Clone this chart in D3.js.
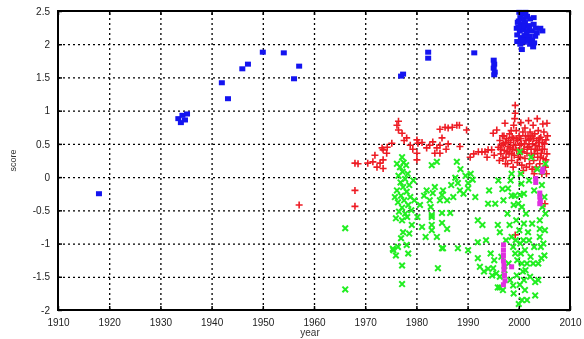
<!DOCTYPE html>
<html>
<head>
<meta charset="utf-8">
<script src="https://cdn.jsdelivr.net/npm/d3@7"></script>
<style>
  body { margin: 0; background: #fff; }
  svg { display: block; font-family: "Liberation Sans", Arial, sans-serif; filter: blur(0.35px); }
  .grid line { stroke: #000; stroke-dasharray: 2,3; stroke-width: 1.3; }
  .grid path { display: none; }
  .ax path { display: none; }
  .ax line { stroke: #000; stroke-width: 1.5; }
  .ax text { fill: #222; font-size: 10px; }
</style>
</head>
<body>
<svg id="chart" width="584" height="339"></svg>
<script>
const W = 584, H = 339;
const margin = { left: 58, right: 14, top: 11, bottom: 29 };

const xTicks = [1910, 1920, 1930, 1940, 1950, 1960, 1970, 1980, 1990, 2000, 2010];
const yTicks = [-2, -1.5, -1, -0.5, 0, 0.5, 1, 1.5, 2, 2.5];

// [year, score]
const blue = [
  [1918,-0.25],[1933.5,0.88],[1934,0.82],[1934.3,0.93],[1935.2,0.95],[1934.8,0.86],
  [1942,1.42],[1943.2,1.18],[1946,1.63],[1947.1,1.70],[1950,1.88],[1954.1,1.87],[1956.1,1.48],[1957.1,1.67],
  [1977,1.52],[1977.4,1.55],[1982.3,1.88],[1982.3,1.79],[1991.3,1.87],
  [1995.1,1.76],[1995.2,1.70],[1995.1,1.64],[1995.3,1.58],[1995.2,1.54],
  [2000.1,2.48],[2000.6,2.45],[2000.3,2.40],[2001.0,2.38],[1999.8,2.33],[2000.4,2.30],[2001.2,2.32],
  [2001.8,2.28],[1999.6,2.24],[2000.2,2.20],[2000.9,2.22],[2002.0,2.25],[2002.5,2.20],[2003.3,2.24],
  [2004.2,2.24],[2004.6,2.20],[1999.7,2.14],[2000.4,2.10],[2001.1,2.13],[2002.1,2.12],[2002.6,2.06],
  [1999.7,2.04],[2000.3,2.00],[2001.0,2.03],[2002.2,2.00],[2000.6,1.92],[2002.8,1.96],[2003.2,2.12],
  [2002.9,2.30],[2001.6,2.42],[2000.0,2.35],[2000.8,2.28],[2001.5,2.18],[2003.0,2.02],[2003.5,2.17],
  [2001.6,2.06],[2000.8,2.06],[1999.9,2.26],[2002.2,2.38],[2002.9,2.40],[2001.3,2.48]
];

const red = [
  [1957.1,-0.42],[1968,-0.2],[1968,-0.44],[1968,0.21],[1968.6,0.2],
  [1970.5,0.21],[1971.5,0.23],[1971.9,0.33],[1972.3,0.15],[1972.9,0.21],[1973.5,0.26],[1973.3,0.44],
  [1974.3,0.45],[1975.2,0.51],[1974.2,0.36],[1973.5,0.13],[1976.2,0.78],[1976.5,0.71],[1977.2,0.66],
  [1978.1,0.59],[1976.5,0.84],[1977.6,0.55],[1978.8,0.48],[1979.3,0.42],[1973.5,0.41],
  [1980.1,0.56],[1980.3,0.51],[1980.1,0.36],[1980.1,0.26],[1981.1,0.52],[1982,0.44],[1982.6,0.48],
  [1983.2,0.53],[1984,0.44],[1984.6,0.48],[1985,0.59],[1983.6,0.36],[1984.6,0.36],[1985.6,0.75],
  [1986.2,0.50],[1985.8,0.42],[1984.6,0.72],[1986.2,0.74],[1987.0,0.75],[1988.4,0.78],
  [1987.9,0.78],[1989.8,0.71],[1988.5,0.46],[1990.5,0.30],[1991.2,0.35],[1992.1,0.38],[1992.8,0.38],
  [1993.4,0.38],[1994,0.41],[1994.7,0.41],[1995,0.66],[1995.7,0.71],[1993.8,0.30],[1995.2,0.33],
  [1996.0,0.45],[1996.3,0.55],[1996.5,0.35],[1996.8,0.62],[1997.0,0.50],[1997.2,0.40],[1997.3,0.81],
  [1997.5,0.30],[1997.6,0.58],[1997.9,0.46],[1998.1,0.36],[1998.2,0.65],[1998.4,0.52],[1998.6,0.25],
  [1998.8,0.42],[1999.0,0.58],[1999.1,0.33],[1999.3,1.08],[1999.3,0.96],[1999.2,0.88],[1999.4,0.48],
  [1999.5,0.70],[1999.7,0.22],[1999.8,0.55],[2000.0,0.40],[2000.1,0.62],[2000.3,0.30],[2000.5,0.50],
  [2000.6,0.18],[2000.8,0.68],[2001.0,0.42],[2001.2,0.74],[2001.2,0.28],[2001.4,0.55],[2001.6,0.36],
  [2001.8,0.62],[2002.0,0.46],[2002.1,0.20],[2002.3,0.58],[2002.5,0.33],[2002.8,0.78],[2002.7,0.50],
  [2002.9,0.25],[2003.1,0.65],[2003.2,0.42],[2003.4,0.15],[2003.5,0.55],[2003.7,0.30],[2003.8,0.70],
  [2004.0,0.46],[2004.1,0.20],[2004.3,0.60],[2004.4,0.36],[2004.6,0.52],[2004.8,0.28],[2004.9,0.68],
  [2005.0,0.42],[2005.2,0.15],[2005.3,0.56],[2005.5,0.81],[2005.5,0.35],[2005.6,0.62],
  [1996.2,0.25],[1997.8,0.20],[1998.9,0.15],[2000.9,0.10],[2002.2,0.68],[2003.0,0.05],[2004.5,0.05],
  [2005.4,0.05],[1999.0,0.78],[2001.9,0.85],[2003.6,0.88],[2004.7,0.80],[1996.9,0.28],[1998.5,0.70],
  [2000.4,0.82],[2001.5,0.15],[2002.6,0.12],[2003.9,0.52],
  [1996.4,0.42],[1996.7,0.48],[1997.1,0.62],[1997.4,0.52],[1997.7,0.38],[1998.0,0.55],[1998.3,0.44],
  [1998.7,0.60],[1999.0,0.48],[1999.6,0.40],[1999.9,0.30],[2000.2,0.48],[2000.4,0.58],[2000.7,0.38],
  [2001.1,0.50],[2001.3,0.62],[2001.7,0.45],[2002.0,0.56],[2002.4,0.42],[2002.6,0.62],[2003.0,0.35],
  [2003.3,0.48],[2003.6,0.40],[2004.0,0.58],[2004.2,0.30],[2004.6,0.42],[2005.0,0.50],[2005.3,0.26],
  [1999.5,0.58],[1998.6,0.35],[1997.4,0.20],[2002.9,0.58],
  [2005.1,-0.40],[1999.3,-0.87]
];

const green = [
  [1977.2,0.30],[1977.5,0.22],[1976.8,0.15],[1978.0,0.18],[1977.3,0.08],[1976.5,0.02],[1978.3,0.05],
  [1977.8,-0.03],[1976.9,-0.08],[1978.6,-0.12],[1977.4,-0.15],[1976.2,-0.20],[1978.1,-0.22],[1977.0,-0.28],
  [1978.8,-0.30],[1977.6,-0.35],[1976.4,-0.38],[1978.4,-0.42],[1977.2,-0.46],[1979.0,-0.50],[1977.8,-0.55],
  [1976.6,-0.52],[1978.2,-0.60],[1977.2,-0.65],[1979.1,-0.72],[1977.4,-0.83],[1976.4,-1.05],[1975.5,-1.10],
  [1978.1,-1.02],[1978.4,-1.15],[1977.2,-1.33],[1977.2,-1.61],[1975.4,-1.08],[1976.0,-1.18],[1977.0,-0.92],
  [1978.6,-0.85],[1979.4,-0.05],[1979.6,-0.35],[1976.0,-0.62],[1975.8,-0.30],[1976.2,0.20],
  [1966.1,-0.77],[1966.1,-1.69],
  [1983,0.18],[1984,0.23],[1987.9,0.23],[1981.1,-0.75],[1983,-0.72],[1983,-0.8],[1985,-1.07],[1984.2,-1.37],
  [1983,-0.6],[1982,-0.2],[1982.6,-0.35],[1984.6,-0.35],[1980.7,-0.42],[1983.2,-0.24],[1985,-0.27],
  [1985.2,-0.2],[1986,-0.35],[1987.2,-0.3],[1988.5,-0.2],[1987.6,-0.01],[1988.1,-0.09],[1990.1,-0.17],
  [1990.1,-0.09],[1991,-0.04],[1983,-0.57],[1985,-0.69],[1985,-0.54],[1986.6,-0.54],[1985.2,-1.07],
  [1988.1,-1.07],[1990.1,-1.1],[1992,-0.65],[1992,-0.98],[1992,-1.22],[1994,-0.4],[1982.8,-0.45],
  [1981.5,-0.28],[1986.8,-0.12],[1989.2,-0.25],[1989.6,0.02],[1991.5,-0.30],[1990.6,0.05],[1988.6,0.12],
  [1986.0,-0.78],[1984.0,-0.9],[1983.6,-0.15],[1980.2,-0.6],[1981.8,-0.9],
  [1992.4,-1.35],[1993.2,-1.42],[1994.0,-1.38],[1994.8,-1.48],[1995.6,-1.45],[1996.3,-1.50],[1996.3,-1.66],
  [1995,-1.37],[1995.9,-1.66],[1996.9,-1.70],[1998.9,-1.63],[2000.6,-1.85],[2001.6,-1.85],[2003.2,-1.78],
  [2003.8,-1.30],[2003.8,-1.55],[2003.2,-1.58],[2004.1,-0.65],[2004.1,-0.78],[2004.1,-0.9],[2001.8,-0.83],
  [1995.9,-0.72],[1996.3,-0.83],[1992.9,-0.72],[1993.6,-0.95],[1994.5,-1.15],[1995.2,-1.25],[1997.8,-0.55],
  [1998.2,-0.72],[1998.6,-0.90],[1998.9,-1.05],[1999.3,-1.15],[1999.7,-1.25],[1999.5,-0.65],[1999.9,-0.40],
  [2000.1,-0.80],[2000.3,-1.00],[2000.6,-1.30],[2000.8,-1.42],[2001.0,-1.55],[2000.2,-1.62],[1999.6,-1.48],
  [2001.2,-1.10],[2001.4,-0.55],[2001.6,-1.30],[2002.0,-0.95],[2002.3,-1.20],[2002.6,-0.70],[2003.0,-1.05],
  [2001.0,-0.25],[2000.5,-0.10],[1999.2,-0.28],[1998.4,-0.05],[1997.9,-0.17],[2000.2,-0.27],[2002.0,-0.05],
  [2003.0,-0.20],[2004.5,-0.12],[2005.0,-0.30],[2005.2,-0.55],[2004.8,-1.00],[2005.0,-1.18],[2004.4,-1.22],
  [2000.2,0.38],[2002.4,0.30],[2005.2,0.20],[2004.6,0.08],[2003.6,0.12],[1998.6,0.05],[1997.0,-0.35],
  [1996.6,-1.20],[1997.2,-1.40],[1998.0,-1.30],[1998.3,-1.55],[1999.0,-1.75],[2000.0,-1.91],[2001.2,-1.70],
  [2002.2,-1.50],[2002.8,-1.30],[1996.0,-0.05],[1995.4,-0.40],[1994.2,-0.2],
  [2000.4,0.05],[2000.6,-0.45],[2001.0,-0.70],[2000.9,-0.95],[2001.3,-1.40],[2000.4,-1.15],[2004.6,-0.45],
  [2005.1,-0.80],[2004.3,-1.05],[1998.6,-0.28],[1999.0,-0.42],[1996.8,-0.18],[1997.5,-0.95],[1999.4,-0.95]
];

const magenta = [
  [1997.0,-1.02],[1997.0,-1.10],[1997.0,-1.18],[1997.0,-1.26],[1997.1,-1.33],[1997.1,-1.40],[1997.2,-1.48],
  [1997.0,-1.62],[1997.3,-1.56],[1998.6,-1.35],
  [2003.3,-0.02],[2003.3,-0.08],[2004.1,-0.24],[2004.1,-0.30],[2004.2,-0.36],[2004.6,0.08],[2004.7,0.12],
  [2004.1,-0.40]
];

const svg = d3.select("#chart");
const x = d3.scaleLinear().domain([1910, 2010]).range([margin.left, W - margin.right]);
const y = d3.scaleLinear().domain([-2, 2.5]).range([H - margin.bottom, margin.top]);
const x0 = x.range()[0], x1 = x.range()[1], y0 = y.range()[0], y1 = y.range()[1];

// grid
svg.append("g").attr("class", "grid")
  .attr("transform", `translate(0,${y0})`)
  .call(d3.axisBottom(x).tickValues(xTicks.slice(1, -1)).tickSize(-(y0 - y1)).tickFormat(""));
svg.append("g").attr("class", "grid")
  .attr("transform", `translate(${x0},0)`)
  .call(d3.axisLeft(y).tickValues(yTicks.slice(1, -1)).tickSize(-(x1 - x0)).tickFormat(""));

// points
const pts = svg.append("g");
pts.selectAll(".b").data(blue).join("rect")
  .attr("x", d => x(d[0]) - 3).attr("y", d => y(d[1]) - 2.5)
  .attr("width", 6).attr("height", 5).attr("fill", "#1414f0");

const plus = 3.5;
pts.selectAll(".r").data(red).join("path")
  .attr("d", d => {
    const cx = x(d[0]), cy = y(d[1]);
    return `M${cx - plus},${cy}H${cx + plus}M${cx},${cy - plus}V${cy + plus}`;
  })
  .attr("stroke", "#ee1c24").attr("stroke-width", 1.6).attr("fill", "none");

const cr = 2.8;
pts.selectAll(".g").data(green).join("path")
  .attr("d", d => {
    const cx = x(d[0]), cy = y(d[1]);
    return `M${cx - cr},${cy - cr}L${cx + cr},${cy + cr}M${cx - cr},${cy + cr}L${cx + cr},${cy - cr}`;
  })
  .attr("stroke", "#22ee22").attr("stroke-width", 2).attr("fill", "none");

pts.selectAll(".m").data(magenta).join("rect")
  .attr("x", d => x(d[0]) - 2.5).attr("y", d => y(d[1]) - 2.5)
  .attr("width", 5).attr("height", 5).attr("fill", "#e030e0");

// axes with inward ticks, mirrored
const fmt = d => String(d);
svg.append("g").attr("class", "ax").attr("transform", `translate(0,${y0})`)
  .call(d3.axisBottom(x).tickValues(xTicks).tickSize(-4).tickPadding(9).tickFormat(fmt));
svg.append("g").attr("class", "ax").attr("transform", `translate(0,${y1})`)
  .call(d3.axisTop(x).tickValues(xTicks).tickSize(-4).tickFormat(""));
svg.append("g").attr("class", "ax").attr("transform", `translate(${x0},0)`)
  .call(d3.axisLeft(y).tickValues(yTicks).tickSize(-4).tickPadding(8).tickFormat(fmt));
svg.append("g").attr("class", "ax").attr("transform", `translate(${x1},0)`)
  .call(d3.axisRight(y).tickValues(yTicks).tickSize(-4).tickFormat(""));

// frame
svg.append("rect").attr("x", x0).attr("y", y1).attr("width", x1 - x0).attr("height", y0 - y1)
  .attr("fill", "none").attr("stroke", "#000").attr("stroke-width", 2);

svg.append("text").attr("x", (x0 + x1) / 2 - 4).attr("y", 336).attr("text-anchor", "middle")
  .attr("font-size", 10).attr("fill", "#333").text("year");
svg.append("text").attr("transform", `translate(16,${(y0 + y1) / 2})rotate(-90)`)
  .attr("text-anchor", "middle").attr("font-size", 9).attr("fill", "#333").text("score");
</script>
</body>
</html>
